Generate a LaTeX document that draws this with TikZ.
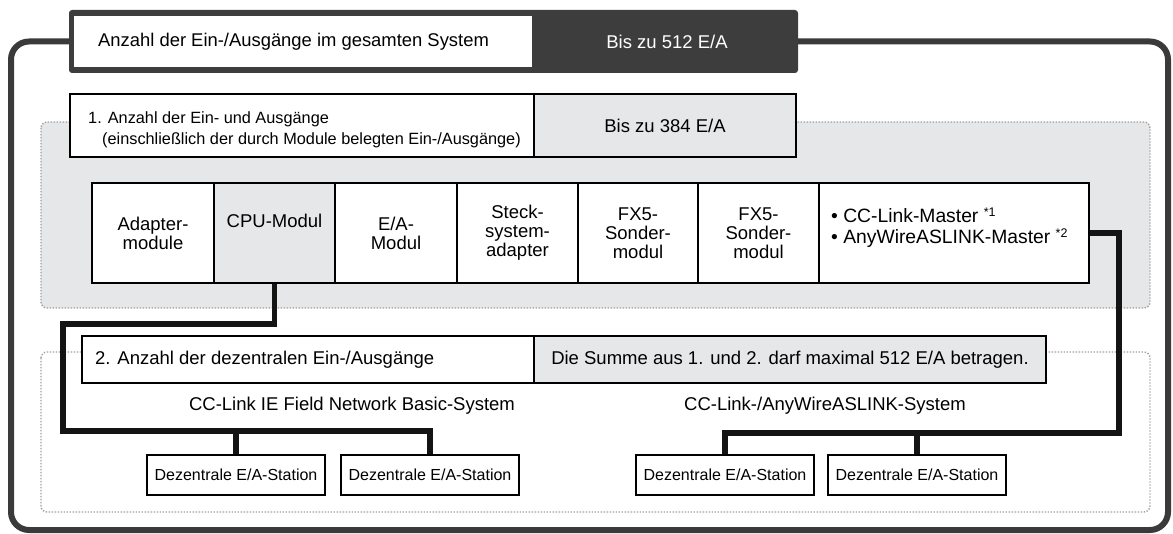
\documentclass[tikz,border=0pt]{standalone}
\usepackage{fontspec}
\setmainfont{Liberation Sans}
\definecolor{lgray}{HTML}{E6E7E8}
\definecolor{hdrdark}{HTML}{3D3D3D}
\definecolor{dotgray}{HTML}{A0A0A0}
\definecolor{framecol}{HTML}{3A3A3A}
\newcommand\myfnt{\fontsize{18.5}{19}\selectfont}
\newcommand\stfnt{\fontsize{16}{17}\selectfont}
\newcommand\mysup[1]{\raisebox{0.6ex}{\fontsize{12.5}{12.5}\selectfont #1}}
\begin{document}
\begin{tikzpicture}[x=1pt,y=-1pt,
  txt/.style={font=\myfnt, inner sep=0pt},
  cell/.style={draw=black, line width=1.4pt, font=\myfnt, align=center, inner sep=0pt},
  modbox/.style={cell, fill=white, minimum height=100pt},
  station/.style={draw=black, line width=1.3pt, fill=white, font=\stfnt, inner sep=0pt, minimum width=178pt, minimum height=40pt},
  dotreg/.style={draw=dotgray, line width=1.4pt, dash pattern=on 1.4pt off 1.6pt, rounded corners=6pt},
  conn/.style={draw=black!92, line width=5.5pt, line join=miter},
  frame/.style={draw=framecol, line width=6pt, rounded corners=18pt}]
\useasboundingbox (0,0) rectangle (1173,534);

% header box
\node[fill=hdrdark, rounded corners=3pt, minimum width=729pt, minimum height=63pt, inner sep=0pt] (hdr) at (433.5,41.5) {};
% outer frame
\draw[frame] (hdr.west) -| (11,530) -| (1168,41.5) -- (hdr.east);
\node[fill=white, minimum width=458pt, minimum height=51pt, inner sep=0pt] (hdrl) at (303,41.5) {};
\node[txt, anchor=west, font=\fontsize{18.4}{19}\selectfont] (hdrlt) at (98,42) {Anzahl der Ein-/Ausgänge im gesamten System};
\node[txt, text=white] (hdrr) at (667,42) {Bis zu 512 E/A};

% dotted regions
\draw[dotreg, fill=lgray] (41,122) rectangle (1150,308);
\draw[dotreg] (41,352) rectangle (1150,512);

% section 1
\node[cell, fill=white, minimum width=464pt, minimum height=63pt] (b1) at (302,125.5) {};
\node[txt, anchor=west, align=left, font=\fontsize{16.3}{21}\selectfont] (b1t) at (88,129.5) {1. Anzahl der Ein- und Ausgänge\\\hspace*{14pt}(einschließlich der durch Module belegten Ein-/Ausgänge)};
\node[cell, fill=lgray, minimum width=262pt, minimum height=63pt] (b384) at (665,125.5) {Bis zu 384 E/A};

% module row
\node[modbox, minimum width=122pt] (m1) at (153,233) {Adapter-\\module};
\node[modbox, fill=lgray, minimum width=121pt] (m2) at (274.5,233) {CPU-Modul\\\strut};
\node[modbox, minimum width=122pt] (m3) at (396,233) {E/A-\\Modul};
\node[modbox, minimum width=121pt] (m4) at (517.5,233) {Steck-\\system-\\adapter};
\node[modbox, minimum width=120pt] (m5) at (638,233) {FX5-\\Sonder-\\modul};
\node[modbox, minimum width=121pt] (m6) at (758.5,233) {FX5-\\Sonder-\\modul};
\node[modbox, minimum width=270pt] (m7) at (954,233) {};
\node[txt, anchor=west, align=left, font=\fontsize{19.3}{21}\selectfont] (m7t) at (831,228) {• CC-Link-Master \mysup{*1}\\• AnyWireASLINK-Master \mysup{*2}};

% section 2
\node[cell, fill=white, minimum width=452pt, minimum height=47pt] (b2) at (308,359.5) {};
\node[txt, anchor=west] (b2t) at (95,360) {2. Anzahl der dezentralen Ein-/Ausgänge};
\node[cell, fill=lgray, minimum width=512pt, minimum height=47pt] (bsum) at (790,359.5) {Die Summe aus 1. und 2. darf maximal 512 E/A betragen.};

\node[txt] (net1) at (352,406) {CC-Link IE Field Network Basic-System};
\node[txt] (net2) at (825,406) {CC-Link-/AnyWireASLINK-System};

% stations
\node[station] (s1) at (236,475) {Dezentrale E/A-Station};
\node[station] (s2) at (430,475) {Dezentrale E/A-Station};
\node[station] (s3) at (725,475) {Dezentrale E/A-Station};
\node[station] (s4) at (917,475) {Dezentrale E/A-Station};

% connectors
\coordinate (la) at (63,324);
\coordinate (lb) at (63,431);
\draw[conn] (m2.south) |- (la) -- (lb) -| (s2.north);
\draw[conn] (s1.north) -- (s1.north |- lb);
\coordinate (ra) at (1119,233);
\coordinate (rb) at (1119,433);
\draw[conn] (m7.east) -- (ra) -- (rb) -| (s3.north);
\draw[conn] (s4.north) -- (s4.north |- rb);
\end{tikzpicture}
\end{document}
